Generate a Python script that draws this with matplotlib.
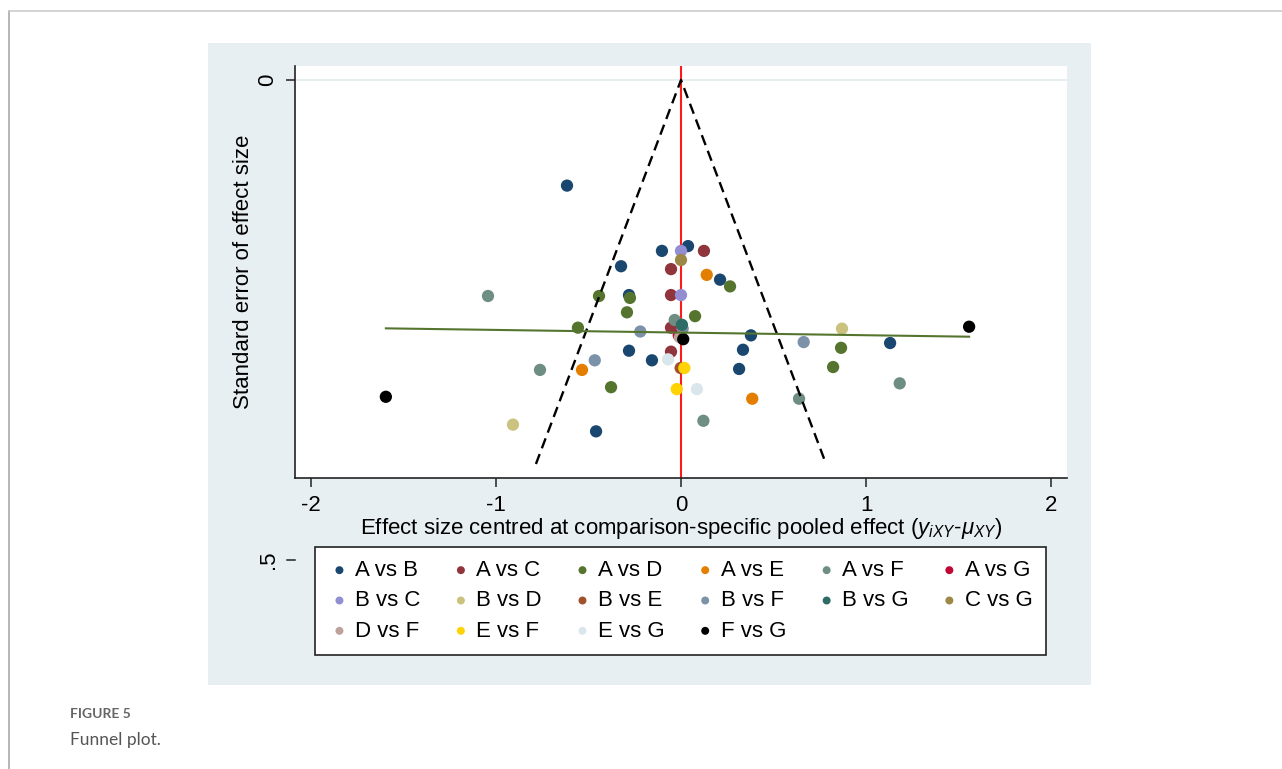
import matplotlib.pyplot as plt
import matplotlib.transforms as mtransforms
from matplotlib.lines import Line2D
from matplotlib.patches import Rectangle

plt.rcParams['font.family'] = ['Liberation Sans', 'DejaVu Sans']
plt.rcParams['mathtext.fontset'] = 'custom'
plt.rcParams['mathtext.it'] = 'Liberation Sans:italic'
plt.rcParams['mathtext.rm'] = 'Liberation Sans'

# effect size centred at comparison-specific pooled effect / standard error
ab_x = [-0.616, -0.103, 0.038, -0.324, 0.211, -0.281, 0.378, -0.281, -0.157, 0.335, 0.314, 1.130, -0.459]
ab_se = [0.110, 0.178, 0.173, 0.194, 0.208, 0.224, 0.266, 0.282, 0.292, 0.281, 0.301, 0.274, 0.366]
ac_x = [0.124, -0.054, -0.054, -0.054, -0.054]
ac_se = [0.178, 0.197, 0.224, 0.258, 0.283]
ad_x = [-0.443, -0.276, -0.292, 0.265, 0.076, -0.557, -0.378, 0.865, 0.822]
ad_se = [0.225, 0.227, 0.242, 0.215, 0.246, 0.258, 0.320, 0.279, 0.299]
ae_x = [0.139, -0.535, 0.385]
ae_se = [0.203, 0.302, 0.332]
af_x = [-1.043, -0.762, -0.034, 0.121, 0.638, 1.182]
af_se = [0.225, 0.302, 0.250, 0.355, 0.332, 0.316]
ag_x = [-0.012]
ag_se = [0.266]
bc_x = [0.0, 0.0]
bc_se = [0.178, 0.224]
bd_x = [-0.908, 0.870]
bd_se = [0.359, 0.259]
be_x = [-0.002]
be_se = [0.300]
bf_x = [-0.220, -0.466, 0.663, 0.009]
bf_se = [0.262, 0.292, 0.273, 0.259]
bg_x = [0.005]
bg_se = [0.255]
cg_x = [0.0]
cg_se = [0.1875]
df_x = [-0.006]
df_se = [0.268]
ef_x = [0.018, -0.023]
ef_se = [0.300, 0.322]
eg_x = [-0.070, 0.086]
eg_se = [0.291, 0.322]
fg_x = [-1.595, 0.012, 1.557]
fg_se = [0.330, 0.270, 0.257]

comparisons = ['A vs B', 'A vs C', 'A vs D', 'A vs E', 'A vs F', 'A vs G',
               'B vs C', 'B vs D', 'B vs E', 'B vs F', 'B vs G', 'C vs G',
               'D vs F', 'E vs F', 'E vs G', 'F vs G']
xs = [ab_x, ac_x, ad_x, ae_x, af_x, ag_x, bc_x, bd_x, be_x, bf_x, bg_x, cg_x,
      df_x, ef_x, eg_x, fg_x]
ses = [ab_se, ac_se, ad_se, ae_se, af_se, ag_se, bc_se, bd_se, be_se, bf_se, bg_se, cg_se,
       df_se, ef_se, eg_se, fg_se]
colors = ['#1a476f', '#90353b', '#55752f', '#e37e00', '#6e8e84', '#c10534',
          '#938dd2', '#cac27e', '#a0522d', '#7b92a8', '#2d6d66', '#9c8847',
          '#bfa19c', '#ffd200', '#d9e6eb', '#000000']

# pseudo 95% confidence funnel and fitted line
z = 1.96
funnel_se = [0.4, 0.0, 0.4]
funnel_x = [-z * 0.4, 0.0, z * 0.4]
fit_x = [-1.595, 1.557]
fit_se = [0.2587, 0.2674]

W, H = 1282, 769
fig = plt.figure(figsize=(W / 100, H / 100), dpi=100)
fig.patch.set_facecolor('white')

# page frame
fig.add_artist(Line2D([9 / W, 9 / W], [0, 1 - 11 / H], color='#aaaaaa', lw=1.2))
fig.add_artist(Line2D([9 / W, 1], [1 - 11 / H, 1 - 11 / H], color='#cccccc', lw=1.2))
# stata graph region
fig.add_artist(Rectangle((208 / W, 1 - 685 / H), (1091 - 208) / W, (685 - 43) / H,
                         facecolor='#e8eff2', edgecolor='none', transform=fig.transFigure, zorder=0))

ax = fig.add_axes([295 / W, 1 - 478 / H, (1067 - 295) / W, (478 - 66) / H])
ax.set_facecolor('white')
ax.set_xlim(-2.086, 2.086)
ax.set_ylim(0.4146, -0.0146)

ax.axhline(0, color='#e3ecef', lw=1.2, zorder=0)
ax.axvline(0, color='#ff1a1a', lw=1.5, zorder=1)

for lab, x, se, c in zip(comparisons, xs, ses, colors):
    ax.scatter(x, se, s=78, color=c, edgecolors='none', label=lab, zorder=2)

ax.plot(funnel_x, funnel_se, color='black', lw=1.7, linestyle=(0, (4.5, 2.6)), zorder=3)
ax.plot(fit_x, fit_se, color='#55752f', lw=1.5, zorder=3)

for s in ['top', 'right']:
    ax.spines[s].set_visible(False)
for s in ['left', 'bottom']:
    ax.spines[s].set_color('#222222')
    ax.spines[s].set_linewidth(1.2)

ax.set_xticks([-2, -1, 0, 1, 2])
ax.set_xticklabels(['-2', '-1', '0', '1', '2'])
ax.set_yticks([0])
ax.set_yticklabels(['0'], rotation=90, va='center')
ax.tick_params(axis='both', labelsize=16, length=6.5, width=1.1, color='#222222', pad=6)
# the .5 label sits below the plot area, as in the source graph
tr = mtransforms.blended_transform_factory(ax.transAxes, ax.transData)
ax.plot([-8.5 / 772, 0], [0.5, 0.5], color='#222222', lw=1.1, transform=tr, clip_on=False)
ax.text(-26 / 772, 0.5, '.5', rotation=90, fontsize=16, ha='center', va='center',
        transform=tr, clip_on=False)

ax.set_xlabel('Effect size centred at comparison-specific pooled effect ($y_{iXY}$-$\\mu_{XY}$)',
              fontsize=16, labelpad=0)
ax.set_ylabel('Standard error of effect size', fontsize=16, labelpad=2)

handles, labels = ax.get_legend_handles_labels()
order = []
for j in range(6):
    for i in range(3):
        k = i * 6 + j
        if k < len(handles):
            order.append(k)
leg = fig.legend([handles[k] for k in order], [labels[k] for k in order],
                 ncol=6, loc='lower left', mode='expand', borderaxespad=0,
                 bbox_to_anchor=(315 / W, 1 - 655 / H, (1046 - 315) / W, (655 - 549) / H),
                 fontsize=16, markerscale=0.65, handletextpad=0.2, handlelength=1.0,
                 labelspacing=0.42, borderpad=0.6, frameon=True, fancybox=False,
                 framealpha=1, facecolor='white')
leg.get_frame().set_edgecolor('#222222')
leg.get_frame().set_linewidth(1.2)

fig.text(70 / W, 1 - 714 / H, 'FIGURE 5', fontsize=10, fontweight='bold', color='#666666',
         family=['Lato', 'DejaVu Sans'], va='center')
fig.text(70 / W, 1 - 740 / H, 'Funnel plot.', fontsize=12.5, color='#555555',
         family=['Lato', 'DejaVu Sans'], va='center')

fig.savefig('out.png', dpi=100, facecolor='white')
